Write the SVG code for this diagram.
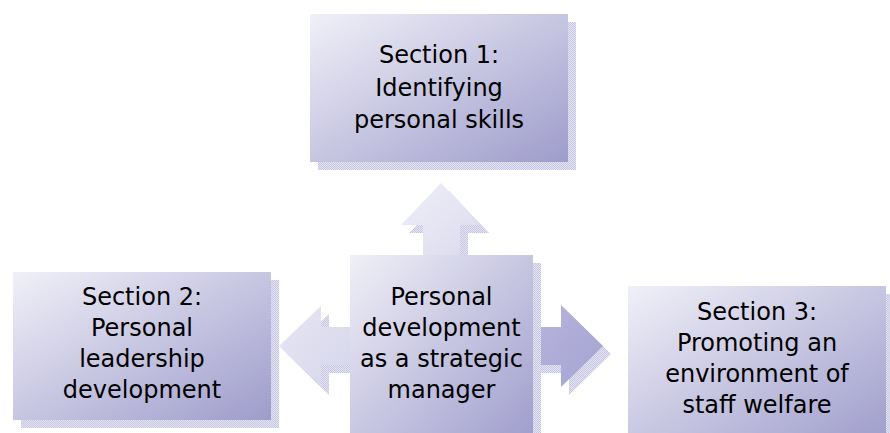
<svg xmlns="http://www.w3.org/2000/svg" width="890" height="433" viewBox="0 0 890 433">
<defs>
<linearGradient id="box" x1="0" y1="0" x2="1" y2="1">
<stop offset="0" stop-color="#f0f0f8"/>
<stop offset="1" stop-color="#9e9ccb"/>
</linearGradient>
<linearGradient id="arrUp" x1="0" y1="0" x2="1" y2="1">
<stop offset="0" stop-color="#f0f0f8"/>
<stop offset="1" stop-color="#dadaee"/>
</linearGradient>
<linearGradient id="arrL" x1="0" y1="0" x2="1" y2="1">
<stop offset="0" stop-color="#e6e6f3"/>
<stop offset="1" stop-color="#d6d6eb"/>
</linearGradient>
<linearGradient id="arrR" x1="0" y1="0" x2="1" y2="1">
<stop offset="0" stop-color="#b8b6de"/>
<stop offset="1" stop-color="#a4a2d0"/>
</linearGradient>
<pattern id="dither" width="2" height="2" patternUnits="userSpaceOnUse">
<rect width="2" height="2" fill="#e4e4f2"/>
<rect width="1" height="1" fill="#c6c6e2"/>
<rect x="1" y="1" width="1" height="1" fill="#c6c6e2"/>
</pattern>
</defs>
<style>
.sh{fill:url(#dither)}
.bx{fill:url(#box)}
text{font-family:"DejaVu Sans",Verdana,sans-serif;font-size:24px;fill:#000;text-anchor:middle}
</style>
<rect width="890" height="433" fill="#ffffff"/>
<g id="connectors">
<g id="arrow-up">
<path class="sh" d="M449,191 L489,233 L468,233 L468,263 L431,263 L431,233 L409,233 Z"/>
<path fill="url(#arrUp)" d="M441,183 L481,225 L460,225 L460,255 L423,255 L423,225 L401,225 Z"/>
</g>
<g id="arrow-left">
<path class="sh" d="M287,354 L329,314 L329,335 L358,335 L358,373 L329,373 L329,395 Z"/>
<path fill="url(#arrL)" d="M279,346 L321,306 L321,327 L350,327 L350,365 L321,365 L321,387 Z"/>
</g>
<g id="arrow-right">
<path class="sh" d="M611,354 L569,313 L569,335 L541,335 L541,373 L569,373 L569,395 Z"/>
<path fill="url(#arrR)" d="M603,346 L561,305 L561,327 L533,327 L533,365 L561,365 L561,387 Z"/>
</g>
</g>
<g id="node-top">
<rect class="sh" x="318" y="22" width="258" height="148"/>
<rect class="bx" x="310" y="14" width="258" height="148"/>
<text x="439" y="63">Section 1:</text>
<text x="439" y="96">Identifying</text>
<text x="439" y="128">personal skills</text>
</g>
<g id="node-left">
<rect class="sh" x="21" y="280" width="258" height="148"/>
<rect class="bx" x="13" y="272" width="258" height="148"/>
<text x="142" y="305">Section 2:</text>
<text x="142" y="336">Personal</text>
<text x="142" y="367">leadership</text>
<text x="142" y="398">development</text>
</g>
<g id="node-center">
<rect class="sh" x="358" y="263" width="183" height="180"/>
<rect class="bx" x="350" y="255" width="183" height="190"/>
<text x="441.5" y="305">Personal</text>
<text x="441.5" y="336">development</text>
<text x="441.5" y="367">as a strategic</text>
<text x="441.5" y="398">manager</text>
</g>
<g id="node-right">
<rect class="sh" x="636" y="294" width="258" height="150"/>
<rect class="bx" x="628" y="286" width="258" height="160"/>
<text x="757" y="320">Section 3:</text>
<text x="757" y="351">Promoting an</text>
<text x="757" y="382">environment of</text>
<text x="757" y="413">staff welfare</text>
</g>
</svg>
